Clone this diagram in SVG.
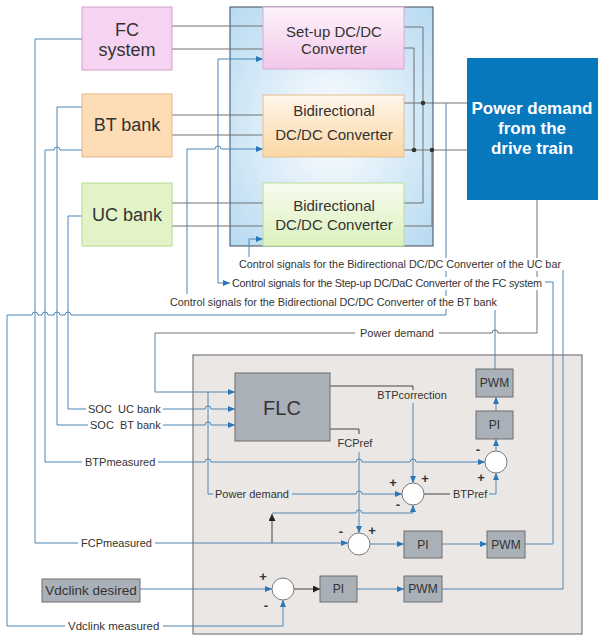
<svg xmlns="http://www.w3.org/2000/svg" width="598" height="636" viewBox="0 0 598 636">
  <defs>
    <marker id="ab" markerWidth="7" markerHeight="6" refX="7" refY="3" orient="auto-start-reverse" markerUnits="userSpaceOnUse">
      <path d="M0,0 L7,3 L0,6 z" fill="#2a76b6"/>
    </marker>
    <marker id="ak" markerWidth="7" markerHeight="7" refX="7" refY="3.5" orient="auto" markerUnits="userSpaceOnUse">
      <path d="M0,0 L7,3.5 L0,7 z" fill="#222"/>
    </marker>
    <radialGradient id="gPanel" cx="50%" cy="50%" r="70%">
      <stop offset="0" stop-color="#ffffff"/>
      <stop offset="0.45" stop-color="#deeef9"/>
      <stop offset="1" stop-color="#b7daf1"/>
    </radialGradient>
    <linearGradient id="gPink" x1="0" y1="0" x2="0" y2="1">
      <stop offset="0" stop-color="#fdf3fb"/>
      <stop offset="1" stop-color="#f3c8ea"/>
    </linearGradient>
    <linearGradient id="gOrange" x1="0" y1="0" x2="0" y2="1">
      <stop offset="0" stop-color="#fff6ea"/>
      <stop offset="1" stop-color="#fbd7a6"/>
    </linearGradient>
    <linearGradient id="gGreen" x1="0" y1="0" x2="0" y2="1">
      <stop offset="0" stop-color="#f7fcef"/>
      <stop offset="1" stop-color="#dcf1bd"/>
    </linearGradient>
  </defs>
  <style>
    .t{font-family:"Liberation Sans",Arial,sans-serif;fill:#333}
    .sm{font-size:10.8px}
    .lb{font-size:11px}
    .sg{font-size:13px;font-weight:bold}
    .sig{fill:none;stroke:#4f86b5;stroke-width:1}
    .pw{fill:none;stroke:#707070;stroke-width:1}
    .blk{fill:none;stroke:#444;stroke-width:1}
    .ctl{fill:#a9b0b8;stroke:#6f6f6f;stroke-width:1}
    .sum{fill:#ffffff;stroke:#7a7a7a;stroke-width:1}
    .dot{fill:#333}
  </style>

  <!-- background panels -->
  <g id="converter-panel">
    <rect x="230" y="7" width="203" height="239" fill="url(#gPanel)" stroke="#3e4b58" stroke-width="1"/>
  </g>
  <g id="control-panel">
    <rect x="193" y="355" width="389" height="279" fill="#ebe7e5" stroke="#7a7a7a" stroke-width="1.2"/>
  </g>

  <!-- connectors -->
  <g id="connectors">
    <!-- power lines -->
    <path class="pw" d="M172,26H263M172,49H263M172,115H263M172,135H263M172,203H263M172,226H263"/>
    <path class="pw" d="M404,27H423V203H404"/>
    <path class="pw" d="M404,48H414V150"/>
    <path class="pw" d="M404,103H467M404,150H467"/>
    <path class="pw" d="M404,226H432V150"/>
    <circle class="dot" cx="423" cy="103" r="2.3"/>
    <circle class="dot" cx="414" cy="150" r="2.3"/>
    <circle class="dot" cx="432" cy="150" r="2.3"/>

    <!-- converter control signals -->
    <path class="sig" d="M230,283H218V59H263" marker-start="url(#ab)" marker-end="url(#ab)"/>
    <path class="sig" d="M187,294V149H215A3,3 0 0 1 221,149H263" marker-end="url(#ab)"/>
    <path class="sig" d="M249,257V239H263" marker-end="url(#ab)"/>
    <path class="sig" d="M525,544H553V282H545"/>
    <path class="sig" d="M442,589H563V270"/>
    <path class="sig" d="M495,369V310"/>

    <!-- DC link voltage feedback -->
    <path class="sig" d="M446,103V258M446,271V277M446,290V296M446,309V315H71A3,3 0 0 0 65,315H60A3,3 0 0 0 54,315H48A3,3 0 0 0 42,315H38A3,3 0 0 0 32,315H7V626H65"/>
    <path class="sig" d="M163,626H283V600" marker-end="url(#ab)"/>

    <!-- FC power measurement -->
    <path class="sig" d="M82,39H35V543H78"/>
    <path class="sig" d="M155,543H348" marker-end="url(#ab)"/>
    <path class="blk" d="M272,543V514" marker-end="url(#ak)"/>
    <path class="sig" d="M272,513H356A3,3 0 0 1 362,513H413V505" marker-end="url(#ab)"/>

    <!-- BT power measurement -->
    <path class="sig" d="M82,150H60A3,3 0 0 0 54,150H45V462H82"/>
    <path class="sig" d="M158,462H205A3,3 0 0 1 211,462H356A3,3 0 0 1 362,462H410A3,3 0 0 1 416,462H485" marker-end="url(#ab)"/>

    <!-- state of charge -->
    <path class="sig" d="M82,107H57V425H88"/>
    <path class="sig" d="M163,425H205A3,3 0 0 1 211,425H235" marker-end="url(#ab)"/>
    <path class="sig" d="M82,216H68V409H86"/>
    <path class="sig" d="M163,409H205A3,3 0 0 1 211,409H235" marker-end="url(#ab)"/>

    <!-- power demand -->
    <path class="pw" d="M537,200V258M537,271V277M537,290V333H498A3,3 0 0 0 492,333H439"/>
    <path class="pw" d="M355,333H155"/>
    <path class="sig" d="M155,333V392H235" marker-end="url(#ab)"/>
    <path class="sig" d="M208,392V494H213"/>
    <path class="sig" d="M292,494H356A3,3 0 0 1 362,494H402" marker-end="url(#ab)"/>

    <!-- FLC outputs -->
    <path class="blk" d="M330,386H413V390"/>
    <path class="sig" d="M413,403V483" marker-end="url(#ab)"/>
    <path class="blk" d="M330,429H359V434"/>
    <path class="sig" d="M359,452V533" marker-end="url(#ab)"/>

    <!-- BT loop -->
    <path class="blk" d="M424,494H450"/>
    <path class="sig" d="M489,494H496V473" marker-end="url(#ab)"/>
    <path class="sig" d="M496,451V439" marker-end="url(#ab)"/>
    <path class="sig" d="M496,411V397" marker-end="url(#ab)"/>

    <!-- FC loop -->
    <path class="sig" d="M370,544H404" marker-end="url(#ab)"/>
    <path class="sig" d="M442,544H487" marker-end="url(#ab)"/>

    <!-- DC link loop -->
    <path class="sig" d="M140,589H272" marker-end="url(#ab)"/>
    <path class="blk" d="M294,589H320" marker-end="url(#ak)"/>
    <path class="sig" d="M357,589H404" marker-end="url(#ab)"/>

    <!-- signal labels -->
    <text class="t sm" x="239" y="268" textLength="322" lengthAdjust="spacing">Control signals for the Bidirectional DC/DC Converter of the UC bar</text>
    <text class="t sm" x="232" y="287" textLength="310" lengthAdjust="spacing">Control signals for the Step-up DC/DaC Converter of the FC system</text>
    <text class="t sm" x="170" y="306" textLength="327" lengthAdjust="spacing">Control signals for the Bidirectional DC/DC Converter of the BT bank</text>
    <text class="t lb" x="397" y="337" text-anchor="middle">Power demand</text>
    <text class="t lb" x="88" y="413" xml:space="preserve">SOC  UC bank</text>
    <text class="t lb" x="90" y="429" xml:space="preserve">SOC  BT bank</text>
    <text class="t lb" x="85" y="466">BTPmeasured</text>
    <text class="t lb" x="215" y="498">Power demand</text>
    <text class="t lb" x="81" y="547">FCPmeasured</text>
    <text class="t lb" x="68" y="630" style="font-size:11.5px">Vdclink measured</text>
    <text class="t lb" x="412" y="399" text-anchor="middle">BTPcorrection</text>
    <text class="t lb" x="355" y="447" text-anchor="middle">FCPref</text>
    <text class="t lb" x="453" y="498">BTPref</text>
  </g>

  <!-- source units -->
  <g id="fc-system">
    <rect x="82" y="7" width="90" height="63" fill="#f6d3f0" stroke="#d3a0cf" stroke-width="1"/>
    <text class="t" x="127" y="36" text-anchor="middle" font-size="18">FC</text>
    <text class="t" x="127" y="56" text-anchor="middle" font-size="18">system</text>
  </g>
  <g id="bt-bank">
    <rect x="82" y="94" width="90" height="63" fill="#fddcb6" stroke="#e6b889" stroke-width="1"/>
    <text class="t" x="127" y="131" text-anchor="middle" font-size="18">BT bank</text>
  </g>
  <g id="uc-bank">
    <rect x="82" y="183" width="90" height="63" fill="#e2f3c7" stroke="#b6d98f" stroke-width="1"/>
    <text class="t" x="127" y="221" text-anchor="middle" font-size="18">UC bank</text>
  </g>

  <!-- converters -->
  <g id="setup-converter">
    <rect x="263" y="7" width="141" height="62" fill="url(#gPink)" stroke="#d7a9d2" stroke-width="1"/>
    <text class="t" x="334" y="37" text-anchor="middle" font-size="15">Set-up DC/DC</text>
    <text class="t" x="334" y="54" text-anchor="middle" font-size="15">Converter</text>
  </g>
  <g id="bt-converter">
    <rect x="263" y="95" width="141" height="62" fill="url(#gOrange)" stroke="#e4bd8e" stroke-width="1"/>
    <text class="t" x="334" y="116" text-anchor="middle" font-size="15">Bidirectional</text>
    <text class="t" x="334" y="140" text-anchor="middle" font-size="15">DC/DC Converter</text>
  </g>
  <g id="uc-converter">
    <rect x="263" y="183" width="141" height="63" fill="url(#gGreen)" stroke="#bcdc98" stroke-width="1"/>
    <text class="t" x="334" y="211" text-anchor="middle" font-size="15">Bidirectional</text>
    <text class="t" x="334" y="230" text-anchor="middle" font-size="15">DC/DC Converter</text>
  </g>

  <!-- load -->
  <g id="drive-train">
    <rect x="467" y="58" width="132" height="142" fill="#0878bd"/>
    <text class="t" x="532" y="114" text-anchor="middle" font-size="17" font-weight="bold" style="fill:#ffffff">Power demand</text>
    <text class="t" x="532" y="134" text-anchor="middle" font-size="17" font-weight="bold" style="fill:#ffffff">from the</text>
    <text class="t" x="532" y="154" text-anchor="middle" font-size="17" font-weight="bold" style="fill:#ffffff">drive train</text>
  </g>

  <!-- energy management controller -->
  <g id="flc">
    <rect class="ctl" x="235" y="373" width="95" height="68"/>
    <text class="t" x="282" y="415" text-anchor="middle" font-size="20">FLC</text>
  </g>

  <g id="bt-pwm">
    <rect class="ctl" x="476" y="369" width="37" height="28"/>
    <text class="t" x="494.5" y="387" text-anchor="middle" font-size="12">PWM</text>
  </g>
  <g id="bt-pi">
    <rect class="ctl" x="476" y="411" width="37" height="28"/>
    <text class="t" x="494.5" y="429" text-anchor="middle" font-size="12">PI</text>
  </g>
  <g id="bt-error">
    <circle class="sum" cx="496" cy="462" r="11"/>
    <text class="t sg" x="478" y="454" text-anchor="middle">-</text>
    <text class="t sg" x="481" y="482" text-anchor="middle">+</text>
  </g>
  <g id="bt-ref-sum">
    <circle class="sum" cx="413" cy="494" r="11"/>
    <text class="t sg" x="393" y="487" text-anchor="middle">+</text>
    <text class="t sg" x="425" y="483" text-anchor="middle">+</text>
    <text class="t sg" x="398" y="509" text-anchor="middle">-</text>
  </g>

  <g id="fc-error">
    <circle class="sum" cx="359" cy="544" r="11"/>
    <text class="t sg" x="341" y="536" text-anchor="middle">-</text>
    <text class="t sg" x="372" y="535" text-anchor="middle">+</text>
  </g>
  <g id="fc-pi">
    <rect class="ctl" x="404" y="531" width="38" height="27"/>
    <text class="t" x="423" y="549" text-anchor="middle" font-size="12">PI</text>
  </g>
  <g id="fc-pwm">
    <rect class="ctl" x="487" y="531" width="38" height="27"/>
    <text class="t" x="506" y="549" text-anchor="middle" font-size="12">PWM</text>
  </g>

  <g id="vdc-desired">
    <rect class="ctl" x="42" y="579" width="98" height="23"/>
    <text class="t" x="91" y="595" text-anchor="middle" font-size="13.5">Vdclink desired</text>
  </g>
  <g id="vdc-error">
    <circle class="sum" cx="283" cy="589" r="11"/>
    <text class="t sg" x="263" y="581" text-anchor="middle">+</text>
    <text class="t sg" x="266" y="610" text-anchor="middle">-</text>
  </g>
  <g id="vdc-pi">
    <rect class="ctl" x="320" y="576" width="37" height="26"/>
    <text class="t" x="338.5" y="593" text-anchor="middle" font-size="12">PI</text>
  </g>
  <g id="vdc-pwm">
    <rect class="ctl" x="404" y="576" width="38" height="26"/>
    <text class="t" x="423" y="593" text-anchor="middle" font-size="12">PWM</text>
  </g>
</svg>
